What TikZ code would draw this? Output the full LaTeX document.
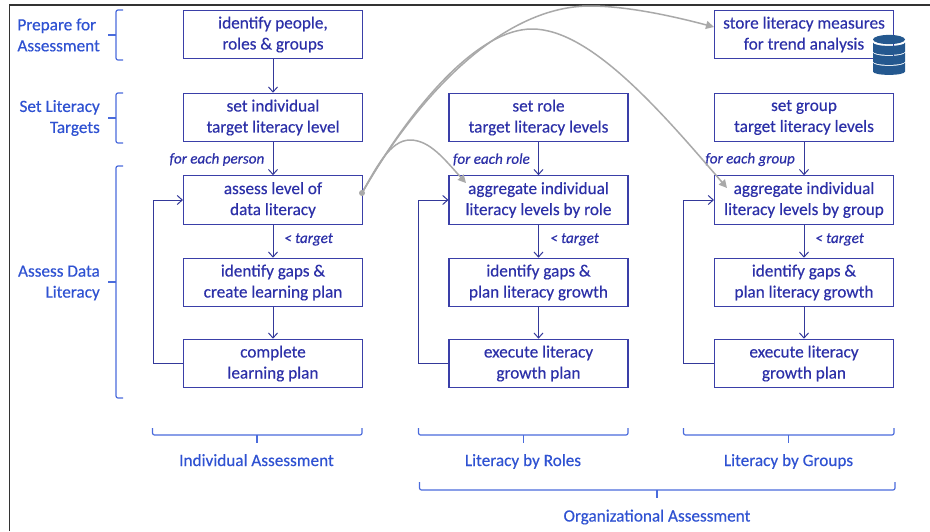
\documentclass[tikz,border=0pt]{standalone}
\usepackage{fontspec}
\setmainfont{Carlito}[RawFeature={embolden=0.35}]
\usetikzlibrary{arrows.meta,positioning}
\definecolor{boxblue}{HTML}{3A3FA8}
\definecolor{boxtext}{HTML}{2C30A8}
\definecolor{labblue}{HTML}{2F52D2}
\definecolor{brk}{HTML}{4A6BDC}
\definecolor{flow}{HTML}{34399A}
\definecolor{curve}{HTML}{A9A9A9}
\definecolor{dbblue}{HTML}{24588F}
\tikzset{
  x=1pt,y=-1pt,
  flowbox/.style={draw=boxblue,line width=1.1pt,fill=white,minimum width=179pt,minimum height=48.5pt,inner sep=0pt,align=center,text=boxtext,font=\fontsize{17.2}{21}\selectfont,execute at begin node={\rule{0pt}{16pt}}},
  flowarrow/.style={draw=flow,line width=1pt,-{Straight Barb[length=5pt,width=9pt,line width=1pt]}},
  loopline/.style={flowarrow},
  grey/.style={draw=curve,line width=1.5pt,-{Triangle[length=8pt,width=8pt,fill=curve]}},
  bracket/.style={draw=brk,line width=1.2pt,rounded corners=2pt},
  sidelabel/.style={anchor=east,text=labblue,font=\fontsize{17.2}{21}\selectfont,inner sep=0pt,execute at begin node={\rule{0pt}{15pt}}},
  footlabel/.style={anchor=base,text=labblue,font=\fontsize{17.2}{21}\selectfont,inner sep=0pt},
  note/.style={text=boxtext,font=\fontsize{15.1}{17}\selectfont\itshape,inner sep=0pt},
}
\newcommand{\dbslice}[1]{%
  \fill[dbblue] (873,#1) -- (873,#1+9) .. controls (873,#1+13.5) and (905,#1+13.5) .. (905,#1+9) -- (905,#1) .. controls (905,#1+4.5) and (873,#1+4.5) .. (873,#1) -- cycle;}
\begin{document}
\begin{tikzpicture}
\useasboundingbox (0,0) rectangle (930,531);
\fill[white] (0,0) rectangle (930,531);
\draw[line width=1.2pt,draw=black!80] (9.5,531) -- (9.5,5) -- (930,5);

% boxes
\node[flowbox] (a1) at (273,34.5) {identify people,\\roles \& groups};
\node[flowbox] (a2) at (273,117.5) {set individual\\target literacy level};
\node[flowbox] (a3) at (273,200) {assess level of\\data literacy};
\node[flowbox] (a4) at (273,282.5) {identify gaps \&\\create learning plan};
\node[flowbox] (a5) at (273,363.5) {complete\\learning plan};
\node[flowbox] (b2) at (538.5,117.5) {set role\\target literacy levels};
\node[flowbox] (b3) at (538.5,200) {aggregate individual\\literacy levels by role};
\node[flowbox] (b4) at (538.5,282.5) {identify gaps \&\\plan literacy growth};
\node[flowbox] (b5) at (538.5,363.5) {execute literacy\\growth plan};
\node[flowbox] (c1) at (804,34.5) {store literacy measures\\for trend analysis};
\node[flowbox] (c2) at (804,117.5) {set group\\target literacy levels};
\node[flowbox] (c3) at (804,200) {aggregate individual\\literacy levels by group};
\node[flowbox] (c4) at (804,282.5) {identify gaps \&\\plan literacy growth};
\node[flowbox] (c5) at (804,363.5) {execute literacy\\growth plan};

% database icon
\fill[dbblue] (889,39.5) ellipse (16 and 4.6);
\dbslice{42.5}
\dbslice{52.5}
\dbslice{62.5}

% vertical flow
\draw[flowarrow] (a1) -- (a2);
\draw[flowarrow] (a2) -- (a3);
\draw[flowarrow] (a3) -- (a4);
\draw[flowarrow] (a4) -- (a5);
\draw[flowarrow] (b2) -- (b3);
\draw[flowarrow] (b3) -- (b4);
\draw[flowarrow] (b4) -- (b5);
\draw[flowarrow] (c2) -- (c3);
\draw[flowarrow] (c3) -- (c4);
\draw[flowarrow] (c4) -- (c5);

% loops
\draw[loopline] (a5.west) -- (153.5,363.5) -- (153.5,200) -- (a3.west);
\draw[loopline] (b5.west) -- (418.5,363.5) -- (418.5,200) -- (b3.west);
\draw[loopline] (c5.west) -- (683.5,363.5) -- (683.5,200) -- (c3.west);

% notes
\node[note,anchor=east] (n1) at (264.5,159.5) {for each person};
\node[note,anchor=east] (n2) at (530,159.5) {for each role};
\node[note,anchor=east] (n3) at (795,159.5) {for each group};
\node[note,anchor=west] (n4) at (284,239.5) {< target};
\node[note,anchor=west] (n5) at (550,239.5) {< target};
\node[note,anchor=west] (n6) at (815,239.5) {< target};

% grey curves
\coordinate (src) at (362,193);
\coordinate (tb) at (466,183);
\coordinate (tc) at (727,188);
\coordinate (ts) at (714,27);
\draw[grey] (src) .. controls (415,100) and (500,6) .. (590,6) .. controls (630,6) and (680,18) .. (ts);
\draw[grey] (src) .. controls (415,100) and (480,29) .. (532,29) .. controls (590,29) and (660,110) .. (tc);
\draw[grey] (src) .. controls (376,168) and (390,140) .. (410,140) .. controls (430,140) and (445,160) .. (tb);
\fill[curve] (src) circle (3);

% side brackets
\draw[bracket] (123,10) -- (116,10) -- (116,60) -- (123,60);
\draw[bracket] (123,93) -- (116,93) -- (116,143) -- (123,143);
\draw[bracket] (123,166) -- (116,166) -- (116,398) -- (123,398);
\draw[draw=brk,line width=1.2pt] (108,35) -- (116,35) (108,118) -- (116,118) (108,282) -- (116,282);
\node[sidelabel,align=left] (s1) at (100,35) {Prepare for\\Assessment};
\node[sidelabel,align=right] (s2) at (100,118) {Set Literacy\\Targets};
\node[sidelabel,align=right] (s3) at (100,283) {Assess Data\\Literacy};

% bottom brackets
\draw[bracket] (152.5,428) -- (152.5,435) -- (362,435) -- (362,428);
\draw[bracket] (418.5,428) -- (418.5,435) -- (628,435) -- (628,428);
\draw[bracket] (683.5,428) -- (683.5,435) -- (894,435) -- (894,428);
\draw[bracket] (419.5,482) -- (419.5,490) -- (895,490) -- (895,482);
\draw[draw=brk,line width=1.2pt] (257,435) -- (257,443) (523.5,435) -- (523.5,443) (788.5,435) -- (788.5,443) (657,490) -- (657,498);
\node[footlabel] (f1) at (256.5,466) {Individual Assessment};
\node[footlabel] (f2) at (523,466) {Literacy by Roles};
\node[footlabel] (f3) at (788.5,466) {Literacy by Groups};
\node[footlabel] (f4) at (657,521.5) {Organizational Assessment};
\end{tikzpicture}
\end{document}
